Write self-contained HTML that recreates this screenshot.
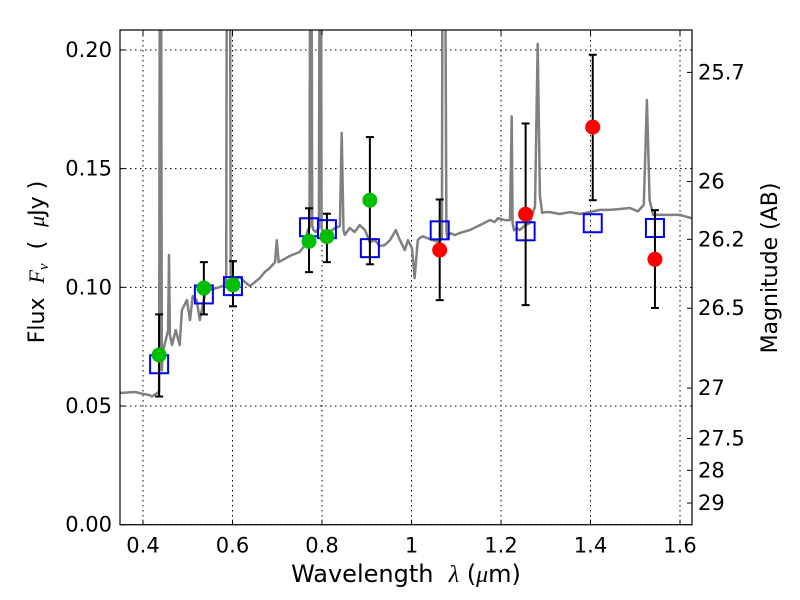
<!DOCTYPE html>
<html><head><meta charset="utf-8">
<style>
html,body{margin:0;padding:0;background:#fff;}
svg{display:block;font-family:"DejaVu Sans","Liberation Sans",sans-serif;}
</style></head>
<body>
<svg id="chart" width="800" height="600" viewBox="0 0 800 600">
  <defs><clipPath id="plotclip"><rect x="120" y="30" width="572" height="494.7"/></clipPath></defs>
  <rect x="0" y="0" width="800" height="600" fill="#fff"/>
  <g id="grid"></g>
  <g id="marks" clip-path="url(#plotclip)"></g>
  <rect x="120" y="30" width="572" height="494.7" fill="none" stroke="#000" stroke-width="1.2"/>
  <g id="axes"></g>
  <text x="406" y="582" font-size="24" text-anchor="middle">Wavelength&#160;&#160;<tspan font-family="Liberation Serif,serif" font-style="italic">λ</tspan> (<tspan font-family="Liberation Serif,serif" font-style="italic">μ</tspan>m)</text>
  <text transform="translate(44,262) rotate(-90)" font-size="22" text-anchor="middle">Flux&#160;&#160;<tspan font-family="Liberation Serif,serif" font-style="italic">F<tspan font-size="15" dy="4">ν</tspan></tspan><tspan dy="-4">&#160;&#160;(&#160;&#160;</tspan><tspan font-family="Liberation Serif,serif" font-style="italic">μ</tspan>Jy )</text>
  <text transform="translate(777,268) rotate(-90)" font-size="22" text-anchor="middle">Magnitude (AB)</text>
</svg>
<script>
const specW = [0.348,0.382,0.400,0.415,0.420,0.436,0.438,0.440,0.442,0.444,0.451,0.456,0.458,0.460,0.465,0.473,0.482,0.487,0.498,0.505,0.511,0.520,0.527,0.538,0.549,0.570,0.586,0.588,0.590,0.592,0.594,0.596,0.605,0.616,0.628,0.639,0.661,0.672,0.683,0.695,0.699,0.703,0.728,0.750,0.762,0.768,0.772,0.774,0.776,0.778,0.781,0.786,0.793,0.795,0.797,0.799,0.802,0.806,0.817,0.829,0.840,0.844,0.848,0.851,0.862,0.873,0.884,0.896,0.907,0.918,0.929,0.940,0.952,0.965,0.974,0.985,0.992,1.001,1.007,1.014,1.019,1.025,1.045,1.063,1.068,1.070,1.074,1.078,1.080,1.086,1.097,1.108,1.130,1.153,1.175,1.186,1.193,1.209,1.220,1.224,1.226,1.229,1.235,1.242,1.253,1.264,1.276,1.282,1.287,1.292,1.298,1.309,1.331,1.354,1.376,1.398,1.421,1.443,1.466,1.488,1.506,1.519,1.526,1.532,1.540,1.555,1.577,1.600,1.626];
const specF = [0.0555,0.0559,0.0551,0.0546,0.0540,0.0560,0.30,0.30,0.0650,0.0728,0.0778,0.0820,0.1136,0.0800,0.0757,0.0820,0.0757,0.0904,0.0946,0.0862,0.0963,0.0946,0.0862,0.0967,0.0989,0.1000,0.1010,0.30,0.30,0.30,0.30,0.1031,0.1031,0.1043,0.1022,0.1005,0.1039,0.1064,0.1081,0.1106,0.1199,0.1106,0.1132,0.1149,0.1178,0.1241,0.1250,0.30,0.30,0.1260,0.1241,0.1233,0.1250,0.30,0.30,0.1250,0.1233,0.1233,0.1233,0.1250,0.1258,0.1650,0.1240,0.1221,0.1250,0.1233,0.1262,0.1241,0.1190,0.1199,0.1174,0.1178,0.1199,0.1241,0.1199,0.1157,0.1199,0.1165,0.1039,0.1199,0.1208,0.1215,0.1200,0.1190,0.1210,0.30,0.30,0.1240,0.1208,0.1229,0.1220,0.1229,0.1241,0.1262,0.1283,0.1275,0.1291,0.1283,0.1283,0.1720,0.1270,0.1240,0.1250,0.1241,0.1260,0.1270,0.1340,0.2025,0.1385,0.1313,0.1317,0.1317,0.1309,0.1317,0.1309,0.1317,0.1326,0.1326,0.1330,0.1334,0.1320,0.1347,0.1789,0.1368,0.1305,0.1305,0.1305,0.1305,0.1291];

const phW = [0.436,0.536,0.601,0.771,0.811,0.907,1.063,1.255,1.405,1.544];
const phF = [0.0715,0.0997,0.1010,0.1194,0.1214,0.1367,0.1157,0.1308,0.1675,0.1118];
const phHi = [0.0886,0.1106,0.1110,0.1333,0.1310,0.1633,0.1370,0.1690,0.1980,0.1325];
const phLo = [0.0540,0.0886,0.0920,0.1064,0.1106,0.1097,0.0946,0.0925,0.1367,0.0913];
const phColor = ['green','green','green','green','green','green','red','red','red','red'];
const modelF = [0.0676,0.0970,0.1005,0.1253,0.1245,0.1165,0.1240,0.1236,0.1270,0.1250];

const xTicks = [0.4,0.6,0.8,1.0,1.2,1.4,1.6];
const xTickLabels = ['0.4','0.6','0.8','1','1.2','1.4','1.6'];
const yTicks = [0.00,0.05,0.10,0.15,0.20];
const yTickLabels = ['0.00','0.05','0.10','0.15','0.20'];
const magTicks = [25.7,26,26.2,26.5,27,27.5,28,29];
const magTickLabels = ['25.7','26','26.2','26.5','27','27.5','28','29'];

const X0=120, X1=692, Y0=524.7, Y1=30;
const XMIN=0.3486, XMAX=1.6268, YMIN=0, YMAX=0.2084;
function sx(w){return X0+(w-XMIN)/(XMAX-XMIN)*(X1-X0);}
function sy(f){return Y0-(f-YMIN)/(YMAX-YMIN)*(Y0-Y1);}
function magToFlux(m){return Math.pow(10,(23.9-m)/2.5);}

const NS='http://www.w3.org/2000/svg';
function mk(tag,attrs,parent){const e=document.createElementNS(NS,tag);for(const k in attrs)e.setAttribute(k,attrs[k]);parent.appendChild(e);return e;}
const grid=document.getElementById('grid'), marks=document.getElementById('marks'), axes=document.getElementById('axes');

xTicks.forEach((t,i)=>{
  const x=sx(t);
  const g=mk('line',{x1:x,x2:x,y1:Y1,y2:Y0,stroke:'#000','stroke-width':1,'stroke-dasharray':'1.5,3.5'},grid);
  
  
  const t1=mk('line',{x1:x,x2:x,y1:Y0,y2:Y0-5,stroke:'#000','stroke-width':1},axes);
  
  
  const t2=mk('line',{x1:x,x2:x,y1:Y1,y2:Y1+5,stroke:'#000','stroke-width':1},axes);
  
  
  const lb=mk('text',{x:x,y:Y0+28,'font-size':21,'text-anchor':'middle'},axes);
  lb.textContent=xTickLabels[i];
  
  
});
yTicks.forEach((t,i)=>{
  const y=sy(t);
  const g=mk('line',{x1:X0,x2:X1,y1:y,y2:y,stroke:'#000','stroke-width':1,'stroke-dasharray':'1.5,3.5'},grid);
  
  
  const t1=mk('line',{x1:X0,x2:X0+5,y1:y,y2:y,stroke:'#000','stroke-width':1},axes);
  
  
  const lb=mk('text',{x:X0-8,y:y+7,'font-size':21,'text-anchor':'end'},axes);
  lb.textContent=yTickLabels[i];
  
  
});
magTicks.forEach((m,i)=>{
  const y=sy(magToFlux(m));
  const t1=mk('line',{x1:X1-5,x2:X1,y1:y,y2:y,stroke:'#000','stroke-width':1},axes);
  
  
  const lb=mk('text',{x:X1+6,y:y+7,'font-size':21,'text-anchor':'start'},axes);
  lb.textContent=magTickLabels[i];
  
  
});

const pts=specW.map((w,i)=>sx(w).toFixed(1)+','+sy(specF[i]).toFixed(1)).join(' ');
const sp=mk('polyline',{points:pts,fill:'none',stroke:'#808080','stroke-width':2.5,'stroke-linejoin':'round'},marks);



phW.forEach((w,i)=>{
  const x=sx(w), y=sy(modelF[i]);
  const s=mk('rect',{x:x-9,y:y-9,width:18,height:18,fill:'none',stroke:'#0000ff','stroke-width':2},marks);
  
  
});
phW.forEach((w,i)=>{
  const x=sx(w), yh=sy(phHi[i]), yl=sy(phLo[i]);
  const g=mk('g',{},marks);
  
  
  mk('line',{x1:x,x2:x,y1:yh,y2:yl,stroke:'#000','stroke-width':2},g);
  mk('line',{x1:x-4,x2:x+4,y1:yh,y2:yh,stroke:'#000','stroke-width':2},g);
  mk('line',{x1:x-4,x2:x+4,y1:yl,y2:yl,stroke:'#000','stroke-width':2},g);
});
phW.forEach((w,i)=>{
  const c=mk('circle',{cx:sx(w),cy:sy(phF[i]),r:7.5,fill:phColor[i]==='green'?'#00bf00':'#ff0000'},marks);
  
  
});
</script>
</body></html>
